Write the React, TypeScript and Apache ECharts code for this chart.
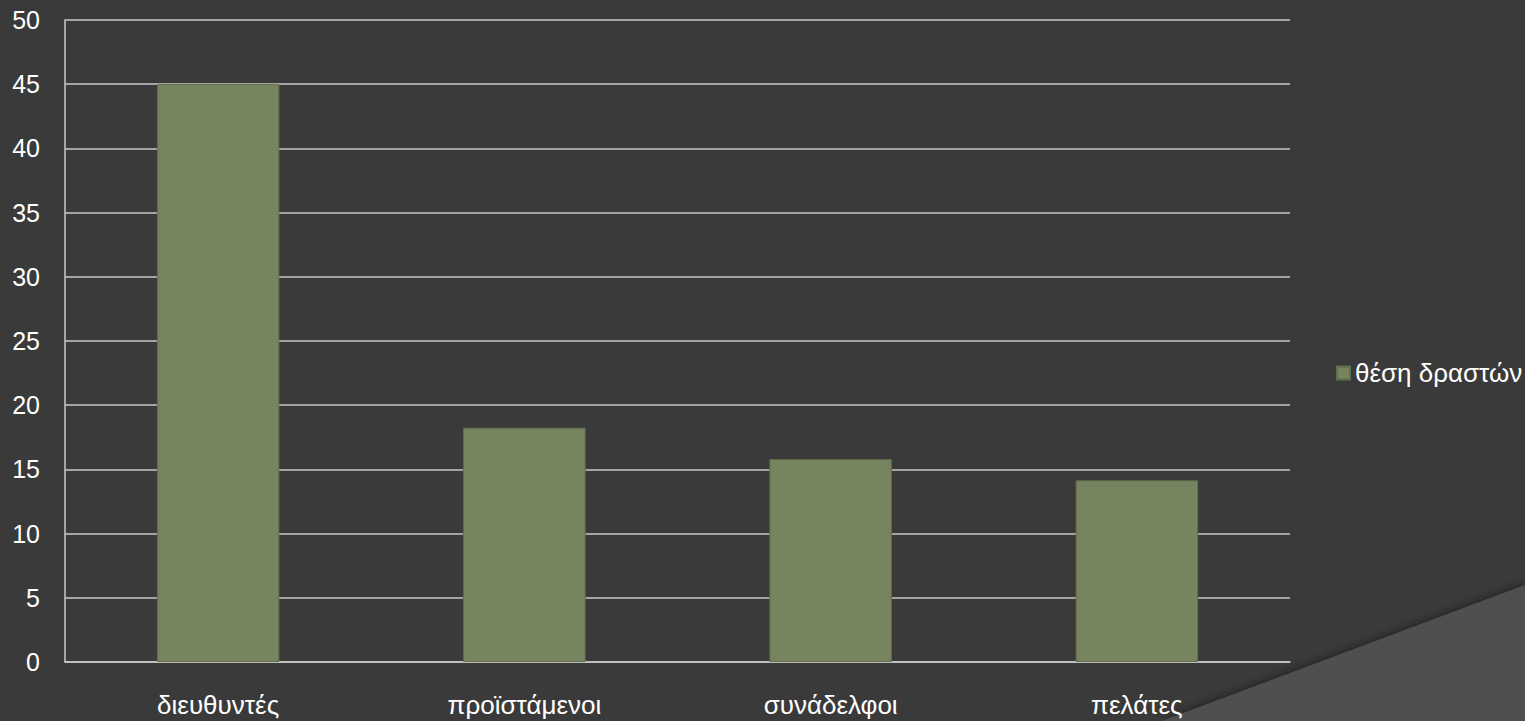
import React, { useEffect, useRef } from "react";
import * as echarts from "echarts";

const categories = ["διευθυντές", "προϊστάμενοι", "συνάδελφοι", "πελάτες"];
const values = [45, 18.25, 15.8, 14.15];
const seriesName = "θέση δραστών";
const yTicks = { min: 0, max: 50, interval: 5 };

export default function App() {
  const ref = useRef<HTMLDivElement>(null);
  useEffect(() => {
    document.body.style.margin = "0";
    const chart = echarts.init(ref.current!, null, { renderer: "svg" });
    const font = "'Liberation Sans', Arial, sans-serif";
    chart.setOption({
      animation: false,
      backgroundColor: "#3a3a3a",
      textStyle: { fontFamily: font },
      graphic: [
        {
          type: "polygon",
          z: -10,
          shape: { points: [[1162, 721], [1525, 585], [1525, 721]] },
          style: {
            fill: "#505050",
            shadowBlur: 8,
            shadowColor: "rgba(0,0,0,0.4)",
            shadowOffsetY: -2,
          },
        },
      ],
      grid: { left: 65, right: 235, top: 20, bottom: 59, containLabel: false },
      legend: {
        data: [seriesName],
        left: 1331,
        top: 355,
        icon: "rect",
        itemWidth: 13,
        itemHeight: 13,
        itemGap: 4,
        textStyle: { color: "#ffffff", fontSize: 26, fontFamily: font },
      },
      xAxis: {
        type: "category",
        data: categories,
        axisLine: { show: true, lineStyle: { color: "#c8c8c8", width: 1.5 } },
        axisTick: { show: false },
        axisLabel: { color: "#ffffff", fontSize: 26, margin: 30, fontFamily: font },
        splitLine: { show: false },
      },
      yAxis: {
        type: "value",
        min: yTicks.min,
        max: yTicks.max,
        interval: yTicks.interval,
        axisLine: { show: true, lineStyle: { color: "#c8c8c8", width: 1.5 } },
        axisTick: { show: false },
        axisLabel: { color: "#ffffff", fontSize: 25, margin: 25, fontFamily: font },
        splitLine: { show: true, lineStyle: { color: "#c8c8c8", width: 1.5 } },
      },
      series: [
        {
          name: seriesName,
          type: "bar",
          data: values,
          barCategoryGap: "60%",
          itemStyle: { color: "#76845f", borderColor: "#5f6e4c", borderWidth: 1 },
        },
      ],
    });
    return () => chart.dispose();
  }, []);
  return (
    <div
      ref={ref}
      style={{ position: "fixed", left: 0, top: 0, width: 1525, height: 721 }}
    />
  );
}
